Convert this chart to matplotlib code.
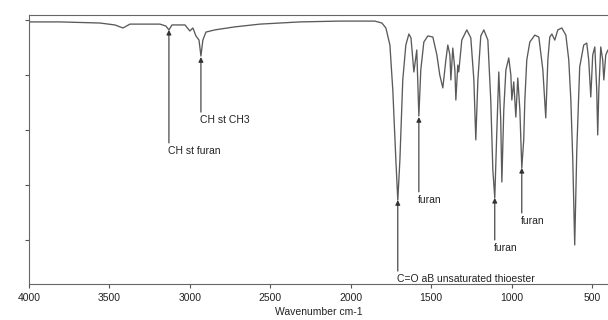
import numpy as np
import matplotlib
matplotlib.use('Agg')
import matplotlib.pyplot as plt

# spectrum: wavenumber [cm-1], transmittance [%]
wavenumber = [4000, 3807, 3559, 3466, 3416, 3372, 3186, 3149, 3130, 3111,
              3030, 3000, 2981, 2962, 2943, 2931, 2919, 2900, 2844, 2720,
              2564, 2316, 2067, 1850, 1806, 1781, 1756, 1738, 1719, 1707,
              1694, 1676, 1657, 1638, 1625, 1607, 1589, 1576, 1564, 1545,
              1520, 1489, 1464, 1446, 1427, 1408, 1396, 1383, 1377, 1365,
              1352, 1346, 1334, 1328, 1309, 1278, 1253, 1234, 1222, 1209,
              1191, 1172, 1147, 1129, 1116, 1104, 1091, 1079, 1067, 1060,
              1048, 1035, 1017, 1004, 998, 986, 973, 961, 948, 936,
              924, 917, 905, 886, 855, 830, 805, 787, 774, 762,
              749, 731, 712, 687, 662, 644, 631, 619, 607, 594,
              576, 551, 532, 520, 507, 495, 482, 470, 464, 457,
              445, 433, 426, 414, 401]
transmittance = [99.3, 99.3, 98.9, 98.2, 97.1, 98.5, 98.5, 97.8, 96.4, 98.2,
                 98.2, 96.0, 97.1, 94.2, 92.7, 86.9, 92.7, 95.6, 96.4, 97.5,
                 98.5, 99.3, 99.6, 99.6, 98.9, 97.1, 90.9, 74.5, 49.1, 34.5,
                 49.0, 78.2, 90.9, 94.9, 93.5, 81.1, 89.1, 65.1, 81.8, 92.0,
                 94.2, 93.8, 87.3, 80.0, 75.3, 85.5, 90.9, 87.3, 78.2, 89.8,
                 81.8, 70.9, 83.6, 81.1, 92.7, 96.4, 93.5, 78.2, 56.4, 78.2,
                 94.2, 96.4, 92.7, 70.9, 45.5, 35.3, 60.0, 81.1, 63.6, 41.1,
                 67.3, 81.8, 86.2, 80.0, 70.9, 77.5, 64.7, 78.9, 67.3, 46.2,
                 56.4, 70.9, 85.5, 92.0, 94.5, 93.8, 81.8, 64.4, 85.5, 93.8,
                 94.9, 92.7, 96.4, 97.1, 94.5, 85.5, 70.9, 49.1, 18.2, 52.7,
                 82.9, 90.9, 91.6, 85.5, 72.0, 87.3, 90.2, 74.5, 58.2, 74.5,
                 90.2, 85.5, 78.2, 87.3, 89.0]

# peak assignments: label, peak position, arrow tip, end of leader line
peak_labels = ['CH st furan', 'CH st CH3', 'C=O aB unsaturated thioester',
               'furan', 'furan', 'furan']
peak_pos = [3130, 2931, 1707, 1576, 1104, 936]
peak_tip = [96.4, 86.5, 34.5, 64.7, 35.3, 46.2]
label_end = [55.3, 66.5, 8.7, 37.5, 20.0, 29.8]

xticks = [4000, 3500, 3000, 2500, 2000, 1500, 1000, 500]
yticks = [100, 80, 60, 40, 20]

fig = plt.figure(figsize=(6.08, 3.2), dpi=100)
ax = fig.add_axes([0.0477, 0.1125, 0.9523, 0.8405])

ax.plot(wavenumber, transmittance, color='#5a5a5a', linewidth=0.95)

for lab, w, tip, end in zip(peak_labels, peak_pos, peak_tip, label_end):
    ax.annotate('', xy=(w, tip), xytext=(w, end),
                arrowprops=dict(arrowstyle='-|>', color='#333333', lw=0.8,
                                mutation_scale=7, shrinkA=0, shrinkB=0))
    ax.text(w + 6, end - 1.0, lab, ha='left', va='top', fontsize=7.5,
            family='Liberation Sans', color='#222222')

ax.set_xlim(4000, 400)
ax.set_ylim(4, 101.8)
ax.set_xticks(xticks)
ax.set_xticklabels([str(t) for t in xticks], fontsize=7.5, family='Liberation Sans', color='#222222')
ax.set_yticks(yticks)
ax.set_yticklabels([])
ax.tick_params(axis='both', direction='out', length=3, width=0.8, colors='#555555', labelcolor='#222222')
ax.set_xlabel('Wavenumber cm-1', fontsize=7.5, family='Liberation Sans', color='#222222', labelpad=3)

for s in ['left', 'bottom', 'top']:
    ax.spines[s].set_color('#666666')
    ax.spines[s].set_linewidth(0.8)
ax.spines['right'].set_visible(False)

fig.savefig('out.png', dpi=100)
